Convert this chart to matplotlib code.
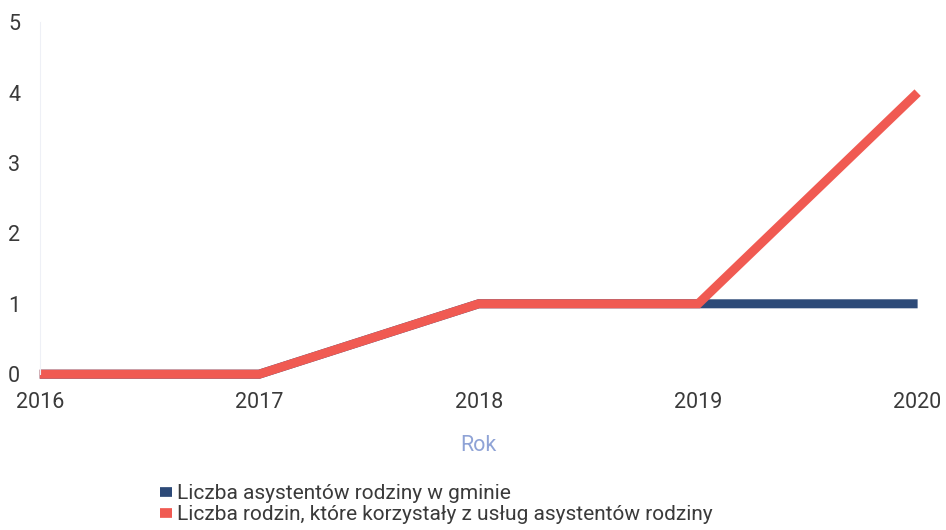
import matplotlib.pyplot as plt

plt.rcParams['font.family'] = ['Roboto', 'DejaVu Sans']

lata = [2016, 2017, 2018, 2019, 2020]
asystenci = [0, 0, 1, 1, 1]
rodziny = [0, 0, 1, 1, 4]
etykiety = ['Liczba asystentów rodziny w gminie',
            'Liczba rodzin, które korzystały z usług asystentów rodziny']
kolory = ['#2d4a78', '#f05a52']

fig = plt.figure(figsize=(9.46, 5.30), dpi=100)
ax = fig.add_axes([0.042, 0.294, 0.928, 0.664])

ax.plot(lata, asystenci, color=kolory[0], lw=6.5, solid_capstyle='butt',
        solid_joinstyle='miter', clip_on=False, label=etykiety[0])
ax.plot(lata, rodziny, color=kolory[1], lw=6.5, solid_capstyle='butt',
        solid_joinstyle='miter', clip_on=False, label=etykiety[1])

ax.set_xlim(2016, 2020)
ax.set_ylim(0, 5)
ax.set_xticks(lata)
ax.set_yticks(range(6))
for s in ['top', 'right', 'bottom']:
    ax.spines[s].set_visible(False)
ax.spines['left'].set_color('#eef0f6')
ax.tick_params(length=0, labelsize=15.5, colors='#3a3a3a')
ax.tick_params(axis='x', pad=13)
ax.tick_params(axis='y', pad=14)
ax.set_xlabel('Rok', color='#8fa3d6', fontsize=15.5, labelpad=16)

leg = fig.legend(handles=ax.get_lines(), loc='upper left',
                 bbox_to_anchor=(0.158, 0.106), frameon=False, fontsize=15,
                 handlelength=0.6, handleheight=0.6, handletextpad=0.2,
                 labelspacing=0.1, borderpad=0, labelcolor='#3a3a3a')
for h in leg.legend_handles:
    h.set_linewidth(7)

fig.savefig('out.png', dpi=100)
